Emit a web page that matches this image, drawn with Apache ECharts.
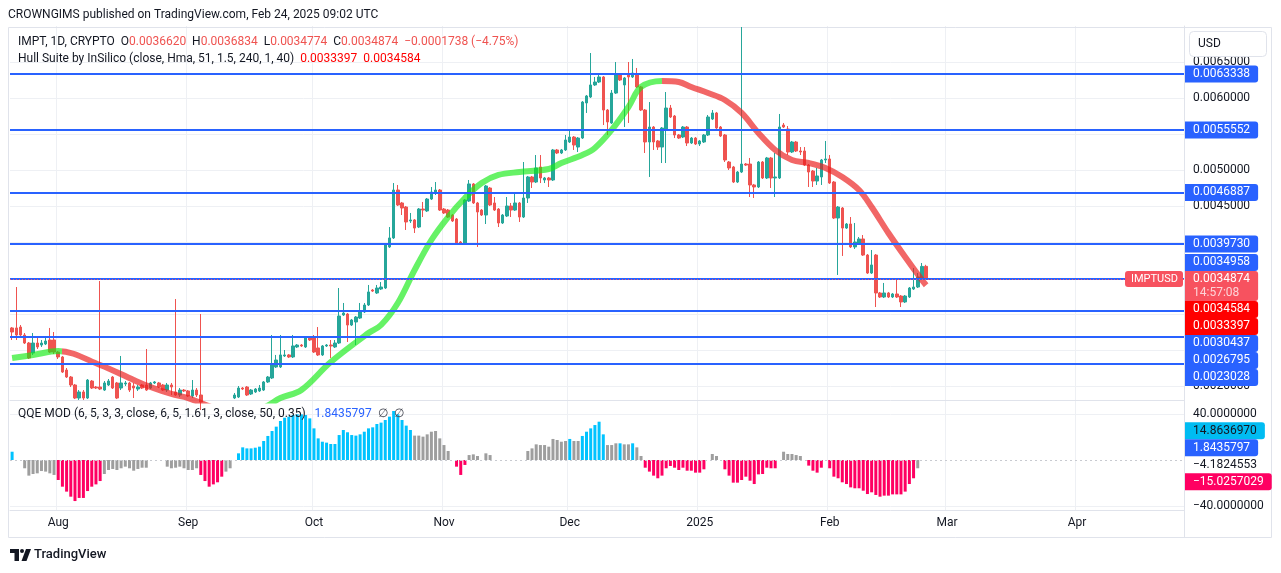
<!DOCTYPE html>
<html>
<head>
<meta charset="utf-8">
<title>IMPTUSD 1D</title>
<script src="https://cdn.jsdelivr.net/npm/echarts@6.0.0/dist/echarts.min.js"></script>
<style>
html, body { margin: 0; padding: 0; background: #fff; }
#chart { width: 1281px; height: 573px; }
</style>
</head>
<body>
<div id="chart"></div>
<script>
var FONT = 'Roboto, "Noto Sans", sans-serif';

// daily candles, 2024-07-21 .. 2025-02-24
var firstDay = '2024-07-21';
var slotCount = 280; // time scale runs on to late April

var open = [
  0.002806, 0.002806, 0.002819, 0.002708, 0.002597, 0.002458, 0.002597, 0.002569, 0.002583, 0.002639,
  0.002639, 0.002472, 0.002403, 0.002222, 0.002125, 0.002014, 0.001833, 0.001917, 0.001833, 0.002069,
  0.001986, 0.001986, 0.001944, 0.002014, 0.002125, 0.002042, 0.001972, 0.002028, 0.002042, 0.002000,
  0.001958, 0.002014, 0.002014, 0.001972, 0.002042, 0.002042, 0.002014, 0.001944, 0.002014, 0.001917,
  0.001875, 0.001944, 0.001931, 0.001861, 0.001944, 0.001875, 0.001778, 0.001694, 0.001639, 0.001667,
  0.001639, 0.001694, 0.001736, 0.001833, 0.001847, 0.001972, 0.001986, 0.001889, 0.001917, 0.001931,
  0.001944, 0.002056, 0.002111, 0.002264, 0.002264, 0.002417, 0.002431, 0.002403, 0.002542, 0.002569,
  0.002542, 0.002667, 0.002667, 0.002528, 0.002431, 0.002556, 0.002569, 0.002542, 0.002597, 0.002986,
  0.003000, 0.002847, 0.002889, 0.002944, 0.003028, 0.003125, 0.003333, 0.003292, 0.003347, 0.003361,
  0.003931, 0.004056, 0.004722, 0.004542, 0.004486, 0.004292, 0.004306, 0.004208, 0.004458, 0.004431,
  0.004597, 0.004694, 0.004722, 0.004458, 0.004444, 0.004375, 0.004319, 0.004000, 0.003986, 0.004569,
  0.004806, 0.004542, 0.004444, 0.004375, 0.004750, 0.004542, 0.004458, 0.004264, 0.004361, 0.004500,
  0.004444, 0.004542, 0.004347, 0.004611, 0.004903, 0.004833, 0.005042, 0.004861, 0.004889, 0.004861,
  0.005278, 0.005236, 0.005278, 0.005389, 0.005458, 0.005319, 0.005444, 0.005931, 0.006014, 0.006181,
  0.006222, 0.006292, 0.005833, 0.005653, 0.006069, 0.006319, 0.006181, 0.006319, 0.006292, 0.006319,
  0.006153, 0.005833, 0.005389, 0.005597, 0.005403, 0.005319, 0.005556, 0.005861, 0.005750, 0.005486,
  0.005458, 0.005597, 0.005375, 0.005444, 0.005361, 0.005389, 0.005486, 0.005708, 0.005792, 0.005597,
  0.005486, 0.005111, 0.005042, 0.004833, 0.004972, 0.005083, 0.005083, 0.004792, 0.004764, 0.005111,
  0.004889, 0.005167, 0.004889, 0.004889, 0.005625, 0.005569, 0.005250, 0.005389, 0.005264, 0.005264,
  0.005069, 0.004986, 0.004847, 0.004903, 0.005139, 0.005153, 0.004833, 0.004333, 0.004472, 0.004194,
  0.004250, 0.003931, 0.003986, 0.004042, 0.003819, 0.003569, 0.003819, 0.003292, 0.003236, 0.003292,
  0.003236, 0.003278, 0.003250, 0.003167, 0.003236, 0.003347, 0.003375, 0.003500, 0.0036620
];
var close = [
  0.002750, 0.002708, 0.002708, 0.002597, 0.002389, 0.002597, 0.002542, 0.002597, 0.002625, 0.002472,
  0.002472, 0.002403, 0.002194, 0.002125, 0.002014, 0.001833, 0.001917, 0.001833, 0.002083, 0.001972,
  0.001972, 0.001958, 0.002042, 0.002069, 0.001972, 0.001833, 0.002042, 0.002042, 0.001944, 0.001972,
  0.001986, 0.001972, 0.001944, 0.002042, 0.002056, 0.001986, 0.001944, 0.002014, 0.001986, 0.001875,
  0.001944, 0.001931, 0.001861, 0.001944, 0.001875, 0.001778, 0.001694, 0.001639, 0.001667, 0.001639,
  0.001694, 0.001736, 0.001778, 0.001875, 0.001972, 0.001958, 0.001875, 0.001944, 0.001958, 0.001972,
  0.002056, 0.002125, 0.002292, 0.002361, 0.002431, 0.002431, 0.002403, 0.002556, 0.002569, 0.002556,
  0.002667, 0.002639, 0.002472, 0.002431, 0.002556, 0.002569, 0.002556, 0.002597, 0.002972, 0.003014,
  0.002847, 0.002917, 0.002958, 0.003028, 0.003125, 0.003306, 0.003319, 0.003361, 0.003375, 0.003958,
  0.004056, 0.004722, 0.004514, 0.004472, 0.004278, 0.004306, 0.004194, 0.004458, 0.004444, 0.004597,
  0.004694, 0.004722, 0.004444, 0.004403, 0.004347, 0.004292, 0.003986, 0.003986, 0.004583, 0.004806,
  0.004542, 0.004417, 0.004375, 0.004778, 0.004514, 0.004444, 0.004264, 0.004375, 0.004500, 0.004444,
  0.004542, 0.004347, 0.004611, 0.004903, 0.004833, 0.005028, 0.004889, 0.004889, 0.004861, 0.005278,
  0.005236, 0.005278, 0.005417, 0.005458, 0.005347, 0.005444, 0.005944, 0.006028, 0.006181, 0.006222,
  0.006292, 0.005833, 0.005667, 0.006069, 0.006319, 0.006250, 0.006278, 0.006292, 0.006347, 0.006153,
  0.005833, 0.005389, 0.005597, 0.005389, 0.005319, 0.005583, 0.005861, 0.005736, 0.005486, 0.005444,
  0.005597, 0.005375, 0.005444, 0.005361, 0.005403, 0.005486, 0.005736, 0.005792, 0.005583, 0.005472,
  0.005139, 0.005028, 0.004833, 0.004972, 0.005083, 0.005069, 0.004792, 0.004764, 0.005111, 0.004889,
  0.005167, 0.004889, 0.004903, 0.005597, 0.005597, 0.005250, 0.005389, 0.005264, 0.005250, 0.005069,
  0.004972, 0.004847, 0.004917, 0.005139, 0.005153, 0.004819, 0.004333, 0.004486, 0.004194, 0.004250,
  0.003931, 0.004000, 0.004042, 0.003819, 0.003569, 0.003681, 0.003292, 0.003236, 0.003292, 0.003236,
  0.003278, 0.003236, 0.003167, 0.003250, 0.003361, 0.003375, 0.003514, 0.0036612, 0.0034874
];
var high = [
  0.002819, 0.003375, 0.002847, 0.002736, 0.002611, 0.002736, 0.002681, 0.002639, 0.002667, 0.002806,
  0.002750, 0.002486, 0.002417, 0.002250, 0.002139, 0.002028, 0.001944, 0.001944, 0.002097, 0.002083,
  0.002000, 0.003458, 0.002069, 0.002097, 0.002139, 0.002056, 0.002417, 0.002069, 0.002056, 0.002042,
  0.002014, 0.002028, 0.002514, 0.002056, 0.002069, 0.002056, 0.002028, 0.002042, 0.002042, 0.003208,
  0.001972, 0.001958, 0.001944, 0.002083, 0.001972, 0.003000, 0.001792, 0.001778, 0.001736, 0.001736,
  0.001778, 0.001792, 0.001792, 0.001903, 0.002000, 0.001986, 0.002000, 0.001958, 0.001972, 0.002014,
  0.002069, 0.002139, 0.002708, 0.002431, 0.002708, 0.002500, 0.002444, 0.002708, 0.002583, 0.002583,
  0.002681, 0.002681, 0.002708, 0.002819, 0.002569, 0.002583, 0.002639, 0.002639, 0.003361, 0.003153,
  0.003014, 0.002931, 0.002972, 0.003153, 0.003153, 0.003403, 0.003347, 0.003403, 0.003444, 0.003972,
  0.004208, 0.004819, 0.004792, 0.004556, 0.004500, 0.004403, 0.004319, 0.004472, 0.004556, 0.004611,
  0.004764, 0.004833, 0.004736, 0.004472, 0.004458, 0.004389, 0.004333, 0.004014, 0.004597, 0.004861,
  0.004819, 0.004556, 0.004458, 0.004792, 0.004764, 0.004625, 0.004472, 0.004389, 0.004625, 0.004542,
  0.004681, 0.004556, 0.005111, 0.004917, 0.004917, 0.005208, 0.005208, 0.004903, 0.004903, 0.005292,
  0.005292, 0.005292, 0.005486, 0.005556, 0.005472, 0.005458, 0.005958, 0.006042, 0.006625, 0.006292,
  0.006319, 0.006305, 0.005847, 0.006111, 0.006500, 0.006347, 0.006292, 0.006500, 0.006542, 0.006417,
  0.006167, 0.005847, 0.005944, 0.005611, 0.005417, 0.005597, 0.006083, 0.005903, 0.005764, 0.005500,
  0.005611, 0.005611, 0.005458, 0.005458, 0.005417, 0.005500, 0.005764, 0.005833, 0.005806, 0.005611,
  0.005500, 0.005125, 0.005056, 0.004986, 0.006986, 0.005097, 0.005167, 0.004806, 0.005125, 0.005125,
  0.005181, 0.005181, 0.005236, 0.005778, 0.005653, 0.005611, 0.005403, 0.005403, 0.005319, 0.005319,
  0.005083, 0.005000, 0.005028, 0.005153, 0.005403, 0.005208, 0.004847, 0.004500, 0.004486, 0.004264,
  0.004347, 0.004264, 0.004069, 0.004097, 0.003833, 0.003889, 0.003833, 0.003306, 0.003431, 0.003306,
  0.003292, 0.003500, 0.003264, 0.003264, 0.003375, 0.003639, 0.003569, 0.003708, 0.0036834
];
var low = [
  0.002639, 0.002639, 0.002694, 0.002583, 0.002375, 0.002431, 0.002514, 0.002542, 0.002569, 0.002458,
  0.002444, 0.002375, 0.002181, 0.002111, 0.001986, 0.001819, 0.001806, 0.001806, 0.001819, 0.001958,
  0.001958, 0.001944, 0.001931, 0.002000, 0.001958, 0.001819, 0.001944, 0.002000, 0.001917, 0.001833,
  0.001931, 0.001958, 0.001931, 0.001958, 0.002028, 0.001972, 0.001931, 0.001917, 0.001875, 0.001861,
  0.001847, 0.001917, 0.001847, 0.001833, 0.001847, 0.001667, 0.001597, 0.001528, 0.001597, 0.001528,
  0.001597, 0.001667, 0.001694, 0.001819, 0.001833, 0.001944, 0.001861, 0.001875, 0.001903, 0.001917,
  0.001931, 0.002042, 0.002097, 0.002250, 0.002250, 0.002403, 0.002389, 0.002389, 0.002528, 0.002542,
  0.002528, 0.002625, 0.002458, 0.002417, 0.002417, 0.002542, 0.002389, 0.002528, 0.002583, 0.002972,
  0.002611, 0.002833, 0.002569, 0.002931, 0.003014, 0.003111, 0.003306, 0.003278, 0.003333, 0.003347,
  0.003917, 0.004042, 0.004500, 0.004375, 0.004167, 0.004264, 0.004125, 0.004194, 0.004347, 0.004417,
  0.004583, 0.004653, 0.004431, 0.004389, 0.004333, 0.004278, 0.003972, 0.003972, 0.003972, 0.004556,
  0.004528, 0.003931, 0.004361, 0.004250, 0.004500, 0.004431, 0.004208, 0.004250, 0.004347, 0.004347,
  0.004431, 0.004278, 0.004333, 0.004542, 0.004750, 0.004819, 0.004819, 0.004819, 0.004764, 0.004847,
  0.005222, 0.005222, 0.005264, 0.005375, 0.005278, 0.005250, 0.005431, 0.005792, 0.006000, 0.006167,
  0.006208, 0.005625, 0.005486, 0.005639, 0.006056, 0.006236, 0.005597, 0.005653, 0.006278, 0.006139,
  0.005819, 0.005236, 0.004903, 0.005278, 0.005278, 0.005097, 0.005097, 0.005722, 0.005444, 0.005431,
  0.005444, 0.005333, 0.005361, 0.005347, 0.005333, 0.005375, 0.005472, 0.005694, 0.005569, 0.005458,
  0.005111, 0.005000, 0.004819, 0.004819, 0.004958, 0.005056, 0.004625, 0.004611, 0.004750, 0.004875,
  0.004875, 0.004750, 0.004625, 0.004875, 0.005583, 0.005208, 0.005236, 0.005250, 0.005208, 0.005056,
  0.004764, 0.004764, 0.004792, 0.004792, 0.005097, 0.004806, 0.004319, 0.003542, 0.003806, 0.004181,
  0.003917, 0.003903, 0.003972, 0.003806, 0.003556, 0.003556, 0.003097, 0.003222, 0.003222, 0.003222,
  0.003222, 0.003222, 0.003097, 0.003153, 0.003222, 0.003333, 0.003361, 0.003486, 0.0034774
];

// Hull Suite band (centre), read at selected bars
var hullIdx = [0, 5, 11, 21, 29, 33, 38, 42, 48, 55, 60, 64, 69, 76, 85, 88, 92, 96, 100, 104,
  108, 112, 116, 121, 128, 131, 136, 139, 143, 147, 150, 155, 159, 162, 166, 170, 174, 178, 182, 186,
  190, 194, 198, 202, 205, 209, 213, 217, 218];
var hullVal = [0.002389, 0.002431, 0.002486, 0.002292, 0.002083, 0.001986, 0.001889, 0.001833, 0.001700, 0.001640,
  0.001700, 0.001833, 0.001944, 0.002333, 0.002736, 0.002847, 0.003153, 0.003611, 0.004028, 0.004347,
  0.004611, 0.004819, 0.004931, 0.004972, 0.005014, 0.005097, 0.005208, 0.005306, 0.005556, 0.005875,
  0.006153, 0.006236, 0.006222, 0.006153, 0.006069, 0.005972, 0.005792, 0.005514, 0.005278, 0.005139,
  0.005097, 0.005028, 0.004903, 0.004722, 0.004486, 0.004125, 0.003792, 0.003472, 0.003399];
var hullLast = [0.0034584, 0.0033397];

// horizontal levels drawn on the chart
var levels = [0.0063338, 0.0055552, 0.0046887, 0.0039730, 0.0034958, 0.0030437, 0.0026795, 0.0023028];

var priceTicks = [0.002, 0.0025, 0.003, 0.0035, 0.004, 0.0045, 0.005, 0.0055, 0.006, 0.0065];
var qqeTicks = [-40, 40];

// QQE MOD histogram
var qqe = [
  7.2, 0, 0, -7.2, -13.6, -12.2, -11.6, -9.6, -10.1, -11.6,
  -13, -17.4, -23.2, -27.5, -31.9, -35.7, -33, -33, -27, -23.2,
  -21.2, -18.3, -12.2, -8.7, -7.8, -8.7, -7.2, -5.8, -7.2, -9.3,
  -7.8, -6.7, -6.7, 0, 0, 0, 0, -5.8, -7.2, -6.7,
  -5.8, -7.2, -8.7, -8.7, -7.2, -13, -18.3, -23.2, -21.2, -19.4,
  -14.5, -10.1, -7.2, 0, 5.8, 11, 10.1, 10.1, 10.7, 11.6,
  16.5, 20.9, 25.2, 29, 33.9, 36.8, 37.7, 39.1, 39.7, 39.7,
  39.1, 36.2, 27.5, 18.8, 15.9, 15.1, 13.9, 13.9, 21.7, 26.1,
  24.1, 21.7, 21.2, 22.3, 24.6, 27.5, 28.4, 31.3, 32.5, 34.8,
  37.7, 42.6, 39.7, 34.8, 29.9, 26.1, 21.2, 21.2, 20.3, 22.3,
  24.6, 25.2, 18.8, 13, 7.8, 0, -5.8, -13, -4.3, 4.3,
  4.9, 3.5, 0, 5.8, 4.3, 0, 0, 0, 0, 0,
  0, 0, 0, 7.8, 10.1, 13.6, 13, 13, 11.6, 18.3,
  17.4, 15.9, 16.5, 18.3, 16.5, 16.5, 20.9, 24.6, 27.5, 30.4,
  33.3, 22.3, 13, 13, 14.5, 14.5, 13.6, 13.6, 14.5, 11,
  3.5, -6.7, -10.1, -13.6, -15.9, -13.6, -7.2, -5.2, -6.7, -8.7,
  -6.7, -9.3, -9.3, -11, -11, -8.1, 0, 5.2, 3.5, 0,
  -8.1, -13.6, -19.7, -19.7, -17.4, -14.5, -18, -20.9, -12.5, -12.2,
  -6.7, -7.2, -7.2, 0, 7.2, 5.2, 5.2, 4.3, 3.5, 0,
  -4.9, -9.3, -11, -6.7, 0, -7.2, -14.5, -15.9, -19.4, -20.9,
  -23.8, -24.6, -24.6, -26.7, -29.6, -28.1, -30.4, -31.9, -31, -31,
  -29.9, -29.9, -29.9, -27.5, -20.9, -15.9, -7.2
];
// u = above upper band, d = below lower band, n = neutral
var qqeSignal = [
  'unnnnnnnnn', 'nddddddddd', 'ddnnnnnnnn', 'nnnnnnnnnn', 'nnnnnddddd',
  'dnnnuuuuuu', 'uuuuuuuuuu', 'uuuuuuuuuu', 'uuuuuuuuuu', 'uuuuuunnnn',
  'nnnnnndddn', 'nnnnnnnnnn', 'nnnnnnnnnn', 'nnnunnuuuu', 'uunnnunnun',
  'nddddddddd', 'ddddddnnnn', 'dddddddddd', 'dddnnnnnnn', 'ddddnddddd',
  'dddddddddd', 'ddddddn'
].join('');
var qqeLabels = [14.8636970, 1.8435797, -4.1824553, -15.0257029];

var monthLabel = { '01': '2025', '02': 'Feb', '03': 'Mar', '04': 'Apr', '08': 'Aug',
  '09': 'Sep', '10': 'Oct', '11': 'Nov', '12': 'Dec' };

var dates = [];
var t0 = Date.parse(firstDay + 'T00:00:00Z');
for (var i = 0; i < slotCount; i++) {
  dates.push(new Date(t0 + i * 86400000).toISOString().slice(0, 10));
}
function isMonthStart(idx, val) { return String(val).slice(8) === '01'; }

var candles = open.map(function (o, k) { return [o, close[k], low[k], high[k]]; });
var hullData = hullIdx.map(function (x, k) { return [x, hullVal[k]]; });
var sigColor = { u: '#00c3ff', d: '#ff0062', n: '#9e9e9e' };
var qqeData = qqe.map(function (v, k) {
  return { value: v, itemStyle: { color: sigColor[qqeSignal.charAt(k)] || '#9e9e9e' } };
});

var chart = echarts.init(document.getElementById('chart'));

var gridLine = { color: '#eef0f4', width: 1 };
var border = { color: '#e0e3eb', width: 1 };
var lastClose = close[close.length - 1];

var lineMarks = levels.map(function (v) { return { yAxis: v }; });
lineMarks.push({ yAxis: lastClose, lineStyle: { color: '#f7525f', type: [1, 2], width: 1 } });

chart.setOption({
  animation: false,
  backgroundColor: '#ffffff',
  textStyle: { fontFamily: FONT },
  grid: [
    { left: 10, right: 97, top: 26, height: 374.4 },
    { left: 10, right: 97, top: 401, height: 109 }
  ],
  xAxis: [
    {
      gridIndex: 0, type: 'category', data: dates, boundaryGap: true,
      axisLine: { show: true, onZero: false, lineStyle: border },
      axisTick: { show: false }, axisLabel: { show: false },
      splitLine: { show: true, interval: isMonthStart, lineStyle: gridLine }
    },
    {
      gridIndex: 1, type: 'category', data: dates, boundaryGap: true,
      axisLine: { show: true, onZero: false, lineStyle: border },
      axisTick: { show: false },
      axisLabel: {
        interval: isMonthStart, color: '#131722', fontSize: 12, margin: 7, fontFamily: FONT,
        formatter: function (v) { return monthLabel[v.slice(5, 7)] || ''; }
      },
      splitLine: { show: true, interval: isMonthStart, lineStyle: gridLine }
    }
  ],
  yAxis: [
    {
      gridIndex: 0, type: 'value', position: 'right', min: 0.0018, max: 0.007,
      axisLine: { show: true, lineStyle: border },
      axisTick: { show: false, customValues: priceTicks },
      axisLabel: {
        customValues: priceTicks, color: '#131722', fontSize: 12, margin: 9, fontFamily: FONT,
        formatter: function (v) { return v.toFixed(7); }
      },
      splitLine: { show: true, lineStyle: gridLine }
    },
    {
      gridIndex: 1, type: 'value', position: 'right', min: -43.48, max: 51.3,
      axisLine: { show: true, lineStyle: border },
      axisTick: { show: false, customValues: qqeTicks },
      axisLabel: {
        customValues: qqeTicks, color: '#131722', fontSize: 12, margin: 9, fontFamily: FONT,
        formatter: function (v) { return (v < 0 ? '\u2212' : '') + Math.abs(v).toFixed(7); }
      },
      splitLine: { show: true, lineStyle: gridLine }
    }
  ],
  visualMap: {
    show: false, type: 'piecewise', seriesIndex: 1, dimension: 0,
    pieces: [
      { lt: 11.5, color: 'rgba(20,235,20,0.65)' },
      { gte: 11.5, lt: 56, color: 'rgba(235,30,30,0.68)' },
      { gte: 56, lt: 155, color: 'rgba(20,235,20,0.65)' },
      { gte: 155, color: 'rgba(235,30,30,0.68)' }
    ]
  },
  series: [
    {
      type: 'candlestick', xAxisIndex: 0, yAxisIndex: 0, data: candles, barWidth: 3, z: 2,
      itemStyle: { color: '#26a69a', color0: '#ef5350', borderColor: '#26a69a', borderColor0: '#ef5350', borderWidth: 1 }
    },
    {
      type: 'line', xAxisIndex: 0, yAxisIndex: 0, data: hullData, smooth: 0.35,
      showSymbol: false, z: 3, lineStyle: { width: 6 }
    },
    {
      type: 'bar', xAxisIndex: 1, yAxisIndex: 1, data: qqeData, barWidth: 3,
      markLine: {
        silent: true, symbol: ['none', 'none'], label: { show: false },
        lineStyle: { color: '#c8cad0', type: [2, 3], width: 1 },
        data: [{ yAxis: 0 }]
      }
    },
    {
      // carrier for the horizontal level lines and the last-price line
      type: 'line', xAxisIndex: 0, yAxisIndex: 0, data: [[candles.length - 1, lastClose]],
      showSymbol: false, symbol: 'none', lineStyle: { opacity: 0 }, z: 4,
      markLine: {
        silent: true, symbol: ['none', 'none'], label: { show: false }, precision: 7,
        lineStyle: { color: '#2962ff', width: 2, type: 'solid' },
        data: lineMarks
      }
    }
  ]
});

// ---- overlay: header, legends, price-scale labels ----
function txt(x, y, text, style) {
  return {
    type: 'text', x: x, y: y, z: 100, silent: true,
    style: Object.assign({
      text: text, fill: '#131722', font: '12px ' + FONT,
      align: 'left', verticalAlign: 'middle', textAlign: 'left', textVerticalAlign: 'middle'
    }, style || {})
  };
}
function tag(x, top, text, bg, fg) {
  return {
    type: 'text', x: x, y: top, z: 110, silent: true,
    style: {
      text: text, fill: fg, font: '12px ' + FONT, lineHeight: 13, padding: [2, 8, 2, 8],
      backgroundColor: bg, borderRadius: [0, 3, 3, 0],
      align: 'left', verticalAlign: 'top', textAlign: 'left', textVerticalAlign: 'top'
    }
  };
}
function stack(list, anchor) {
  anchor.top = anchor.py - anchor.off;
  var below = list.filter(function (l) { return l !== anchor && l.py >= anchor.py; })
    .sort(function (a, b) { return a.py - b.py; });
  var above = list.filter(function (l) { return l !== anchor && l.py < anchor.py; })
    .sort(function (a, b) { return b.py - a.py; });
  var cur = anchor.top + anchor.h;
  below.forEach(function (l) { l.top = Math.max(l.py - l.off, cur); cur = l.top + l.h; });
  cur = anchor.top;
  above.forEach(function (l) { var b = Math.min(l.py - l.off + l.h, cur); l.top = b - l.h; cur = l.top; });
}

var axisX = 1185;
var g = [];

// frame
g.push({ type: 'rect', z: 1, silent: true, shape: { x: 8.5, y: 27.5, width: 1263, height: 510 },
  style: { fill: 'none', stroke: '#e0e3eb', lineWidth: 1 } });
g.push({ type: 'line', z: 1, silent: true, shape: { x1: 1184.5, y1: 27.5, x2: 1184.5, y2: 537.5 },
  style: { stroke: '#e0e3eb', lineWidth: 1 } });

// USD button
g.push({ type: 'rect', z: 100, silent: true, shape: { x: 1189.5, y: 31.5, width: 77, height: 25, r: 4 },
  style: { fill: '#ffffff', stroke: '#e0e3eb', lineWidth: 1 } });
g.push(txt(1198, 44, 'USD'));

// header + legends
g.push(txt(8, 15, 'CROWNGIMS published on TradingView.com, Feb 24, 2025 09:02 UTC'));
var red = '#ef5350';
g.push(txt(18, 42, '{k|IMPT, 1D, CRYPTO}  {k|O}{v|0.0036620}  {k|H}{v|0.0036834}  {k|L}{v|0.0034774}  {k|C}{v|0.0034874}  {v|\u22120.0001738 (\u22124.75%)}', {
  rich: { k: { fill: '#131722', font: '12px ' + FONT }, v: { fill: red, font: '12px ' + FONT } }
}));
g.push(txt(18, 59, '{k|Hull Suite by InSilico (close, Hma, 51, 1.5, 240, 1, 40)}  {v|0.0033397}  {v|0.0034584}', {
  rich: { k: { fill: '#131722', font: '12px ' + FONT }, v: { fill: '#ff0000', font: '12px ' + FONT } }
}));
g.push(txt(18, 414, '{k|QQE MOD (6, 5, 3, 3, close, 6, 5, 1.61, 3, close, 50, 0.35)}   {b|1.8435797}  {g|\u2205}  {g|\u2205}', {
  rich: { k: { fill: '#131722', font: '12px ' + FONT }, b: { fill: '#2962ff', font: '12px ' + FONT },
    g: { fill: '#434651', font: '12px ' + FONT } }
}));

// price scale labels
function py(v) { return chart.convertToPixel({ yAxisIndex: 0 }, v); }
var priceItems = levels.map(function (v) {
  return { py: py(v), off: 8.5, h: 17, text: v.toFixed(7), bg: '#2962ff', fg: '#ffffff' };
});
hullLast.forEach(function (v) {
  priceItems.push({ py: py(v), off: 8.5, h: 17, text: v.toFixed(7), bg: '#ff0000', fg: '#ffffff' });
});
var lastItem = { py: py(lastClose), off: 8, h: 30, last: true };
priceItems.push(lastItem);
stack(priceItems, lastItem);
priceItems.forEach(function (l) {
  if (l.last) {
    g.push({
      type: 'text', x: axisX, y: l.top, z: 110, silent: true,
      style: {
        text: '{a|' + lastClose.toFixed(7) + '}\n{b|14:57:08}',
        rich: {
          a: { fill: '#ffffff', font: '12px ' + FONT, lineHeight: 14 },
          b: { fill: 'rgba(255,255,255,0.75)', font: '12px ' + FONT, lineHeight: 14 }
        },
        padding: [1, 8, 1, 8], backgroundColor: '#f7525f', borderRadius: [0, 3, 3, 0],
        align: 'left', verticalAlign: 'top', textAlign: 'left', textVerticalAlign: 'top'
      }
    });
  } else {
    g.push(tag(axisX, l.top, l.text, l.bg, l.fg));
  }
});
// symbol tag left of the scale
g.push({
  type: 'text', x: 1183, y: lastItem.py, z: 110, silent: true,
  style: {
    text: 'IMPTUSD', fill: '#ffffff', font: '11px ' + FONT, padding: [3, 5, 2, 6],
    backgroundColor: '#f7525f', borderRadius: 3,
    align: 'right', verticalAlign: 'middle', textAlign: 'right', textVerticalAlign: 'middle'
  }
});

// QQE scale labels
function qy(v) { return chart.convertToPixel({ yAxisIndex: 1 }, v); }
var qqeStyles = [
  { bg: '#00bcf2', fg: '#131722' },
  { bg: '#2962ff', fg: '#ffffff' },
  { bg: null, fg: '#131722' },
  { bg: '#ff0062', fg: '#ffffff' }
];
var qItems = qqeLabels.map(function (v, k) {
  return { py: qy(v), off: 8.5, h: 17, text: (v < 0 ? '\u2212' : '') + Math.abs(v).toFixed(7),
    bg: qqeStyles[k].bg, fg: qqeStyles[k].fg };
});
stack(qItems, qItems[2]);
qItems.forEach(function (l) {
  if (l.bg) g.push(tag(axisX, l.top, l.text, l.bg, l.fg));
  else g.push(txt(axisX + 8, l.top + 8.5, l.text));
});

// footer logo
g.push({ type: 'polygon', z: 100, silent: true,
  shape: { points: [[10, 549], [19, 549], [19, 561], [14.5, 561], [14.5, 553], [10, 553]] },
  style: { fill: '#131722' } });
g.push({ type: 'circle', z: 100, silent: true, shape: { cx: 22, cy: 551, r: 2 }, style: { fill: '#131722' } });
g.push({ type: 'polygon', z: 100, silent: true,
  shape: { points: [[26, 549], [31, 549], [26.5, 561], [21.5, 561]] }, style: { fill: '#131722' } });
g.push(txt(34, 555, 'TradingView', { font: '500 13px ' + FONT }));

chart.setOption({ graphic: { elements: g } });
</script>
</body>
</html>
